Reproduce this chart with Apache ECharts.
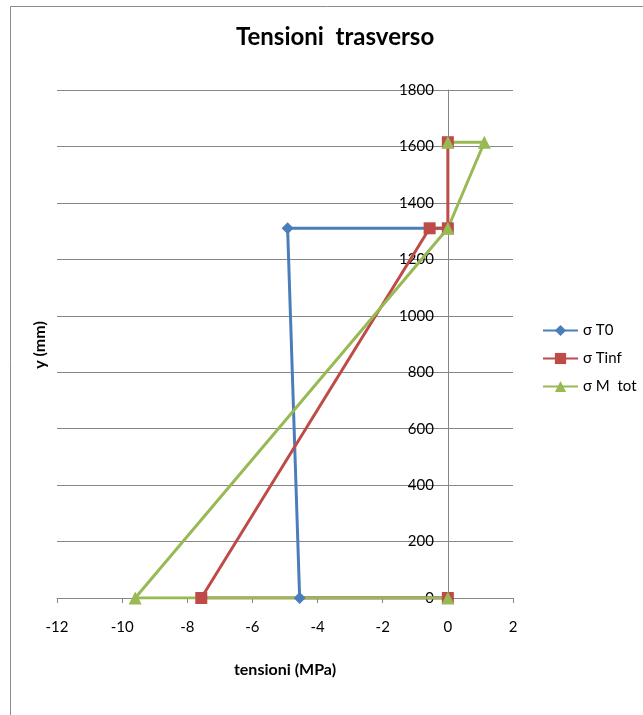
<!DOCTYPE html>
<html>
<head>
<meta charset="utf-8">
<script src="https://cdn.jsdelivr.net/npm/echarts@6/dist/echarts.min.js"></script>
<style>html,body{margin:0;padding:0;background:#fff}#c{width:643px;height:715px}</style>
</head>
<body>
<div id="c"></div>
<script>
const title = "Tensioni  trasverso";
const xName = "tensioni (MPa)";
const yName = "y (mm)";
const seriesNames = ["σ T0", "σ Tinf", "σ M  tot"];
const t0X = [0, -4.55, -4.92, 0];
const t0Y = [0, 0, 1310, 1310];
const tinfX = [0, -7.57, -0.56, 0, 0];
const tinfY = [0, 0, 1310, 1310, 1615];
const mtotX = [0, -9.6, 0, 1.12, 0];
const mtotY = [0, 0, 1310, 1615, 1615];

const zip = (xs, ys) => xs.map((x, i) => [x, ys[i]]);
const font = 'Lato, "Open Sans", sans-serif';
const chart = echarts.init(document.getElementById('c'));
const mk = (name, data, color, symbol, size) => ({
  name, type: 'line', data, symbol, symbolSize: size,
  lineStyle: { color, width: 3 }, itemStyle: { color },
  animation: false
});
const gridLeft = 57, gridRight = 130;
const plotW = 643 - gridLeft - gridRight;
const xMin = -12, xMax = 2;
const zeroOffset = -plotW * (0 - xMin) / (xMax - xMin);
chart.setOption({
  animation: false,
  backgroundColor: '#fff',
  title: { text: title, left: 231, top: 20, textStyle: { fontFamily: font, fontSize: 24, fontWeight: 'bold', color: '#000' } },
  grid: { left: gridLeft, right: gridRight, top: 90, bottom: 117 },
  legend: {
    orient: 'vertical', left: 537, top: 318, itemGap: 13, itemWidth: 35, itemHeight: 14,
    textStyle: { fontFamily: font, fontSize: 15, color: '#000' },
    data: seriesNames
  },
  xAxis: {
    type: 'value', min: xMin, max: xMax, interval: 2,
    name: xName, nameLocation: 'middle', nameGap: 64,
    nameTextStyle: { fontFamily: font, fontSize: 16, fontWeight: 'bold', color: '#000' },
    axisLine: { onZero: true, lineStyle: { color: '#868686' } },
    axisTick: { show: true, length: 5, lineStyle: { color: '#868686' } },
    axisLabel: { fontFamily: font, fontSize: 15, color: '#000', margin: 22 },
    splitLine: { show: false }
  },
  yAxis: {
    type: 'value', min: 0, max: 1800, interval: 200,
    position: 'left', offset: zeroOffset,
    axisLine: { show: true, onZero: false, lineStyle: { color: '#868686' } },
    axisTick: { show: false },
    axisLabel: { fontFamily: font, fontSize: 15, color: '#000', margin: 14, formatter: v => String(v) },
    splitLine: { show: true, lineStyle: { color: '#868686' } }
  },
  graphic: [
    { type: 'rect', shape: { x: 10.5, y: 6.5, width: 700, height: 800 }, style: { fill: 'none', stroke: '#8c8c8c', lineWidth: 1 }, silent: true },
    { type: 'text', x: 40, y: 345, rotation: Math.PI / 2, style: { text: yName, font: 'bold 16px ' + font, fill: '#000', textAlign: 'center', textVerticalAlign: 'middle' } }
  ],
  series: [
    mk(seriesNames[0], zip(t0X, t0Y), '#4A7EBB', 'diamond', 12),
    mk(seriesNames[1], zip(tinfX, tinfY), '#BE4B48', 'rect', 12),
    mk(seriesNames[2], zip(mtotX, mtotY), '#98B954', 'triangle', 13)
  ]
});
</script>
</body>
</html>
